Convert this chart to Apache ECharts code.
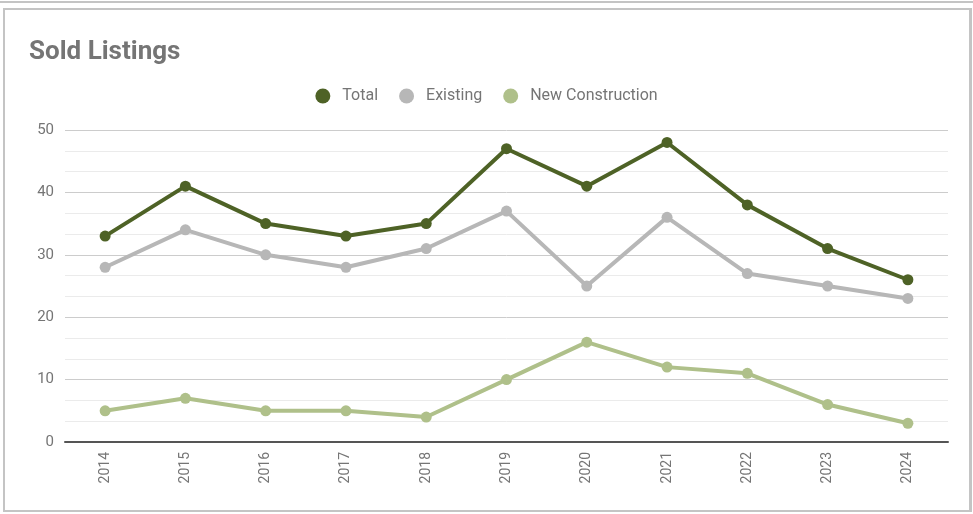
<!DOCTYPE html>
<html>
<head>
<meta charset="utf-8">
<script src="https://cdn.jsdelivr.net/npm/echarts@6/dist/echarts.min.js"></script>
<style>
  html, body { margin: 0; padding: 0; background: #fff; }
  .topline { position: absolute; left: 0; top: 0; width: 973px; height: 1px; border-bottom: 2px solid #c4c4c4; }
  .card { position: absolute; left: 3px; top: 8px; width: 964px; height: 500px; border: 2px solid #c4c4c4; border-right-width: 3px; background: #fff; }
  #chart { position: absolute; left: 0; top: 0; width: 973px; height: 514px; }
</style>
</head>
<body>
<div class="topline"></div>
<div class="card"></div>
<div id="chart"></div>
<script>
// 年份
const years = ['2014', '2015', '2016', '2017', '2018', '2019', '2020', '2021', '2022', '2023', '2024']
// 数据
const total = [33, 41, 35, 33, 35, 47, 41, 48, 38, 31, 26]
const existing = [28, 34, 30, 28, 31, 37, 25, 36, 27, 25, 23]
const newConstruction = [5, 7, 5, 5, 4, 10, 16, 12, 11, 6, 3]

const myChart = echarts.init(document.getElementById('chart'))

const makeSeries = (name, data, color) => ({
  name: name,
  type: 'line',
  data: data,
  symbol: 'circle',
  symbolSize: 11,
  lineStyle: { width: 4, color: color },
  itemStyle: { color: color },
  emphasis: { disabled: true }
})

const option = {
  animation: false,
  textStyle: { fontFamily: 'Roboto' },
  title: {
    text: 'Sold Listings',
    left: 24,
    top: 34,
    textStyle: { fontSize: 26, fontWeight: 'bold', color: '#757575', fontFamily: 'Roboto' }
  },
  legend: {
    top: 83,
    left: 'center',
    icon: 'circle',
    itemWidth: 15,
    itemHeight: 15,
    itemGap: 21,
    textStyle: { fontSize: 16, color: '#757575', fontFamily: 'Roboto', padding: [0, 0, 0, 7] },
    data: ['Total', 'Existing', 'New Construction']
  },
  grid: {
    left: 65,
    right: 25,
    top: 130,
    bottom: 72
  },
  xAxis: {
    type: 'category',
    data: years,
    boundaryGap: true,
    axisLine: { lineStyle: { color: '#555', width: 2 } },
    axisTick: { show: false },
    axisLabel: { rotate: 90, color: '#757575', fontSize: 14, margin: 10 }
  },
  yAxis: {
    type: 'value',
    min: 0,
    max: 50,
    interval: 10,
    axisLine: { show: false },
    axisTick: { show: false },
    axisLabel: { color: '#757575', fontSize: 15, margin: 11 },
    splitLine: { lineStyle: { color: '#cccccc', width: 1 } },
    minorTick: { show: false, splitNumber: 3 },
    minorSplitLine: { show: true, lineStyle: { color: '#ebebeb', width: 1 } }
  },
  series: [
    makeSeries('Total', total, '#4e6226'),
    makeSeries('Existing', existing, '#b7b7b7'),
    makeSeries('New Construction', newConstruction, '#afc08a')
  ]
}
myChart.setOption(option)
</script>
</body>
</html>
